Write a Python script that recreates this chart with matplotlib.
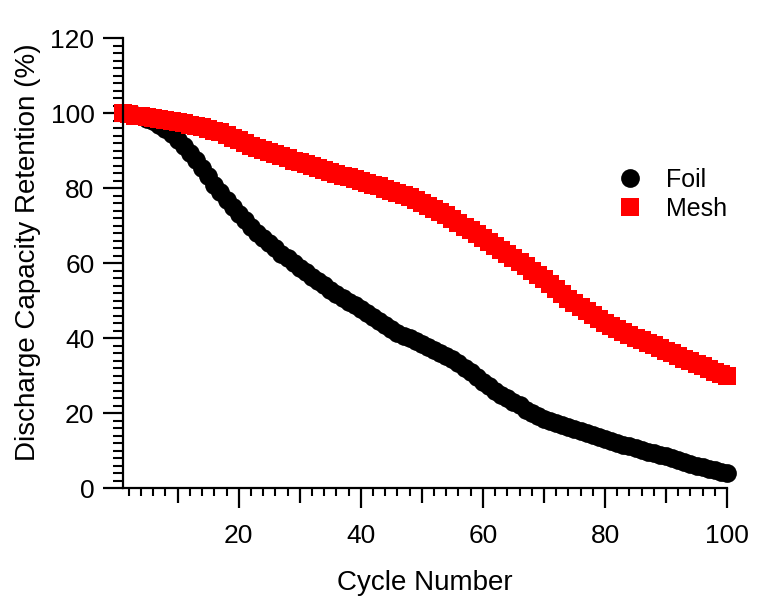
import matplotlib
matplotlib.use("Agg")
import matplotlib.pyplot as plt
from matplotlib.ticker import MultipleLocator, FuncFormatter

# cycle numbers and retention values (%)
cycles = list(range(1, 101))

foil = [100.0, 99.8, 99.5, 99.2, 98.6, 97.9, 97.0, 95.9, 94.6, 93.0,
        91.3, 89.5, 87.5, 85.4, 83.2, 81.0, 78.9, 76.8, 75.0, 73.2,
        71.5, 69.8, 68.2, 66.8, 65.4, 64.0, 62.6, 61.4, 60.0, 58.7,
        57.6, 56.4, 55.3, 54.1, 53.0, 51.9, 50.8, 49.8, 48.8, 47.7,
        46.7, 45.7, 44.7, 43.6, 42.5, 41.5, 40.7, 40.0, 39.2, 38.5,
        37.7, 37.0, 36.2, 35.4, 34.5, 33.4, 32.2, 30.9, 29.6, 28.4,
        27.2, 26.0, 25.0, 24.0, 23.1, 22.2, 21.0, 20.0, 19.2, 18.5,
        17.9, 17.4, 16.9, 16.4, 15.9, 15.3, 14.8, 14.2, 13.7, 13.2,
        12.7, 12.2, 11.7, 11.2, 10.7, 10.2, 9.8, 9.4, 9.0, 8.6,
        8.1, 7.6, 7.1, 6.6, 6.1, 5.7, 5.2, 4.8, 4.4, 4.0]

mesh = [100.0, 99.7, 99.4, 99.2, 99.0, 98.8, 98.5, 98.2, 97.9, 97.6,
        97.3, 97.0, 96.7, 96.3, 95.9, 95.4, 94.9, 94.3, 93.5, 92.8,
        92.1, 91.4, 90.8, 90.2, 89.7, 89.1, 88.6, 88.0, 87.4, 86.9,
        86.4, 85.9, 85.4, 84.9, 84.4, 83.9, 83.4, 83.0, 82.5, 82.0,
        81.5, 81.0, 80.5, 79.9, 79.3, 78.8, 78.2, 77.6, 76.9, 76.2,
        75.4, 74.6, 73.7, 72.8, 71.8, 70.8, 69.8, 68.8, 67.8, 66.8,
        65.8, 64.7, 63.6, 62.5, 61.4, 60.3, 59.2, 58.0, 56.9, 55.7,
        54.5, 53.2, 51.9, 50.6, 49.4, 48.3, 47.2, 46.1, 45.1, 44.2,
        43.3, 42.5, 41.7, 40.9, 40.2, 39.5, 38.8, 38.1, 37.4, 36.7,
        36.0, 35.3, 34.6, 33.9, 33.2, 32.5, 31.8, 31.1, 30.5, 30.0]

plt.rcParams['font.family'] = ['Liberation Sans', 'DejaVu Sans']

fig = plt.figure(figsize=(7.67, 6.0), dpi=100)
ax = fig.add_axes([0.16, 0.186, 0.788, 0.7503])

ax.plot(cycles, foil, 'o', color='black', ms=13.5, mew=0, label='Foil', clip_on=False)
ax.plot(cycles, mesh, 's', color='red', ms=13.5, mew=0, label='Mesh', clip_on=False)

ax.set_xlim(1, 100)
ax.set_ylim(0, 120)

for side in ['top', 'right']:
    ax.spines[side].set_visible(False)
for side in ['left', 'bottom']:
    ax.spines[side].set_linewidth(1.6)

ax.xaxis.set_major_locator(MultipleLocator(10))
ax.xaxis.set_minor_locator(MultipleLocator(2))
ax.xaxis.set_major_formatter(FuncFormatter(lambda v, p: '%d' % v if v % 20 == 0 else ''))
ax.yaxis.set_major_locator(MultipleLocator(20))
ax.yaxis.set_minor_locator(MultipleLocator(2))

ax.tick_params(which='major', direction='out', length=14.4, width=1.6, labelsize=19)
ax.tick_params(axis='x', which='major', pad=11)
ax.tick_params(axis='y', which='major', pad=6)
ax.tick_params(axis='x', which='minor', direction='out', length=5.8, width=1.5)
ax.tick_params(axis='y', which='minor', direction='out', length=7.2, width=1.5)

# the ticks at 10, 30, ... are shorter than the labelled ones
for loc, tick in zip(ax.xaxis.get_majorticklocs(), ax.xaxis.get_major_ticks()):
    if loc % 20 != 0:
        tick.tick1line.set_markersize(10.8)

ax.set_xlabel('Cycle Number', fontsize=20, labelpad=16)
ax.set_ylabel('Discharge Capacity Retention (%)', fontsize=20)
ax.yaxis.set_label_coords(-0.135, 0.524)

ax.legend(loc='upper left', bbox_to_anchor=(617.5 / 767, 1 - 168 / 600),
          bbox_transform=fig.transFigure, frameon=False, fontsize=18,
          handlelength=1.0, handletextpad=0.95, labelspacing=0.2,
          borderpad=0, borderaxespad=0, numpoints=1)

fig.savefig('out.png', dpi=100)
